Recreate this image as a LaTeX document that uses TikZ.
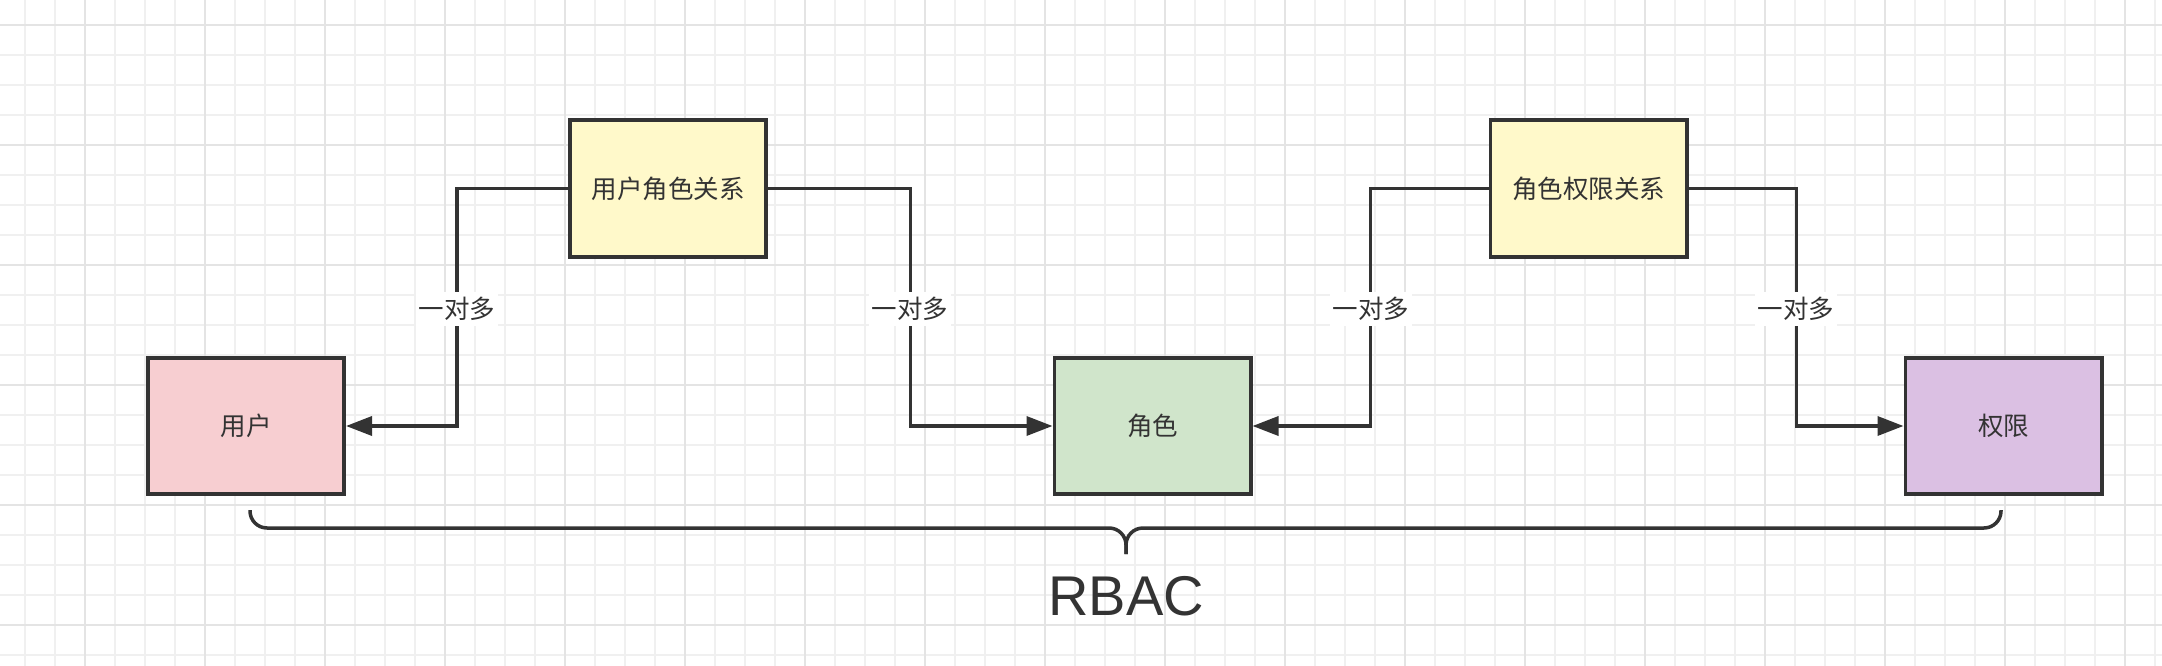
\documentclass[tikz,border=0pt]{standalone}
\usepackage{fontspec}
\setmainfont{Liberation Sans}
\newfontfamily\cjk{Noto Sans CJK SC}
\usetikzlibrary{arrows.meta}
\definecolor{ink}{HTML}{333333}
\definecolor{gminor}{HTML}{F0F0F0}
\definecolor{gmajor}{HTML}{E4E4E4}
\definecolor{cpink}{HTML}{F7CED1}
\definecolor{cgreen}{HTML}{D0E5CB}
\definecolor{cyellow}{HTML}{FFF9CA}
\definecolor{cpurple}{HTML}{DBC0E3}
\tikzset{
  box/.style={draw=ink, line width=3.6pt, minimum width=196.4pt, minimum height=136.4pt,
    inner sep=0pt, text=ink, font=\cjk\fontsize{25.5}{30}\selectfont},
  conn/.style={draw=ink, line width=3.5pt, -{Triangle[length=26pt,width=19pt]}},
  lab/.style={fill=white, text=ink, inner xsep=3pt, inner ysep=5pt,
    font=\cjk\fontsize{25.5}{30}\selectfont},
  minorl/.style={gminor, line width=2pt},
  majorl/.style={gmajor, line width=2.5pt},
}
\begin{document}
\begin{tikzpicture}[x=1pt,y=-1pt]
\fill[white] (0,0) rectangle (2162,666);
\useasboundingbox (0,0) rectangle (2162,666);
% grid
\foreach \x in {25,55,...,2160} \draw[minorl] (\x,0) -- (\x,666);
\foreach \y in {25,55,...,665} \draw[minorl] (0,\y) -- (2162,\y);
\foreach \x in {85,205,...,2160} \draw[majorl] (\x,0) -- (\x,666);
\foreach \y in {25,145,...,665} \draw[majorl] (0,\y) -- (2162,\y);
% boxes
\node[box, fill=cpink]   (user) at (246,426)    {用户};
\node[box, fill=cyellow] (ur)   at (668,188.5)  {用户角色关系};
\node[box, fill=cgreen]  (role) at (1152.5,426) {角色};
\node[box, fill=cyellow] (rp)   at (1588.5,188.5) {角色权限关系};
\node[box, fill=cpurple] (perm) at (2003.5,426) {权限};
% connectors
\draw[conn] (ur.west) -| ([xshift=111pt]user.east) -- (user.east);
\draw[conn] (ur.east) -| ([xshift=-142pt]role.west) -- (role.west);
\draw[conn] (rp.west) -| ([xshift=118pt]role.east) -- (role.east);
\draw[conn] (rp.east) -| ([xshift=-107pt]perm.west) -- (perm.west);
% labels
\node[lab] (l1) at (457,309)  {一对多};
\node[lab] (l2) at (910,309)  {一对多};
\node[lab] (l3) at (1371,309) {一对多};
\node[lab] (l4) at (1796,309) {一对多};
% brace
\coordinate (bl) at (250,510);
\coordinate (br) at (2001,510);
\coordinate (bm) at (1126,528);
\coordinate (bt) at (1126,554);
\draw[ink, line width=3.5pt, rounded corners=17pt] (bl) -- (bl |- bm) -- (bm) -- (bt);
\draw[ink, line width=3.5pt, rounded corners=17pt] (br) -- (br |- bm) -- (bm) -- (bt);
\node[text=ink, font=\fontsize{56}{60}\selectfont, anchor=base, inner sep=0pt] (rbac) at (1126,615) {RBAC};
\end{tikzpicture}
\end{document}
